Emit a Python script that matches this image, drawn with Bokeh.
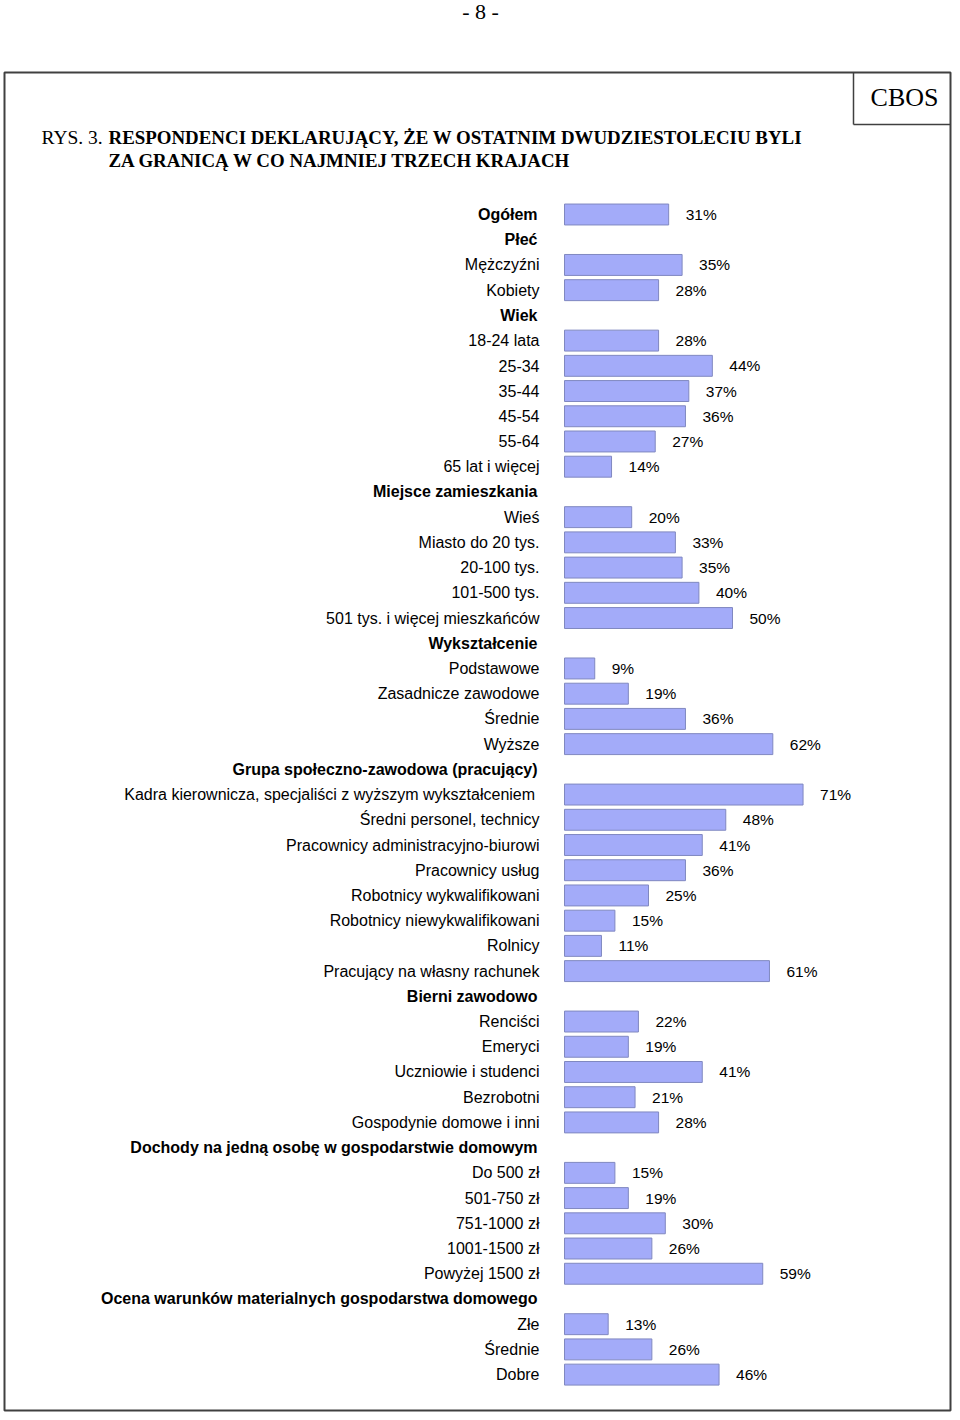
from bokeh.plotting import figure
from bokeh.models import Range1d, ColumnDataSource
from bokeh.core.properties import value
from bokeh.embed import file_html
from bokeh.resources import INLINE

# ---------------- data ----------------
categories = [
    "Ogółem", "Płeć", "Mężczyźni", "Kobiety", "Wiek", "18-24 lata", "25-34", "35-44",
    "45-54", "55-64", "65 lat i więcej", "Miejsce zamieszkania", "Wieś",
    "Miasto do 20 tys.", "20-100 tys.", "101-500 tys.", "501 tys. i więcej mieszkańców",
    "Wykształcenie", "Podstawowe", "Zasadnicze zawodowe", "Średnie", "Wyższe",
    "Grupa społeczno-zawodowa (pracujący)",
    "Kadra kierownicza, specjaliści  z wyższym wykształceniem",
    "Średni personel, technicy", "Pracownicy administracyjno-biurowi",
    "Pracownicy usług", "Robotnicy wykwalifikowani", "Robotnicy niewykwalifikowani",
    "Rolnicy", "Pracujący na własny rachunek", "Bierni zawodowo", "Renciści",
    "Emeryci", "Uczniowie i studenci", "Bezrobotni", "Gospodynie domowe i inni",
    "Dochody na jedną osobę w gospodarstwie domowym", "Do 500 zł", "501-750 zł",
    "751-1000 zł", "1001-1500 zł", "Powyżej 1500 zł",
    "Ocena warunków materialnych gospodarstwa domowego", "Złe", "Średnie", "Dobre",
]
values = [
    31, None, 35, 28, None, 28, 44, 37,
    36, 27, 14, None, 20,
    33, 35, 40, 50,
    None, 9, 19, 36, 62,
    None,
    71,
    48, 41,
    36, 25, 15,
    11, 61, None, 22,
    19, 41, 21, 28,
    None, 15, 19,
    30, 26, 59,
    None, 13, 26, 46,
]
bold_rows = [
    "Ogółem", "Płeć", "Wiek", "Miejsce zamieszkania", "Wykształcenie",
    "Grupa społeczno-zawodowa (pracujący)", "Bierni zawodowo",
    "Dochody na jedną osobę w gospodarstwie domowym",
    "Ocena warunków materialnych gospodarstwa domowego",
]
title_prefix = "RYS. 3."
title_line1 = "RESPONDENCI DEKLARUJĄCY, ŻE W OSTATNIM DWUDZIESTOLECIU BYLI"
title_line2 = "ZA GRANICĄ W CO NAJMNIEJ TRZECH KRAJACH"
page_label = "- 8 -"
brand = "CBOS"

# ---------------- layout constants (picture pixels) ----------------
W, H = 952, 1412
OFF = 0
X0, SX = 564.0, 3.36     # picture x of 0 %, pixels per %
Y0, SY = 214.0, 25.22    # picture y of first row, pixels per row

def X(px):
    return (px - X0) / SX

def Y(py):
    return (py - Y0) / SY

p = figure(width=W, height=H, output_backend="svg", toolbar_location=None,
           x_range=Range1d(X(OFF), X(OFF + W)),
           y_range=Range1d(Y(OFF + H), Y(OFF)),
           min_border=0, outline_line_color=None)
p.xaxis.visible = False
p.yaxis.visible = False
p.grid.visible = False
p.background_fill_color = "white"
p.border_fill_color = "white"

rows = list(range(len(categories)))
bar_rows = [i for i, v in enumerate(values) if v is not None]
bar_vals = [values[i] for i in bar_rows]
bars = ColumnDataSource(dict(y=bar_rows, v=bar_vals,
                             lab=[f"{v}%" for v in bar_vals]))

p.hbar(y="y", left=0, right="v", height=0.83, source=bars,
       fill_color="#a3abf9", line_color="#8088c0", line_width=1)
p.text(x="v", y="y", text="lab", source=bars, x_offset=17,
       text_align="left", text_baseline="middle",
       text_font=value("Liberation Sans"), text_font_size="15.5px", text_color="#000000")

norm_rows = [i for i in rows if categories[i] not in bold_rows]
bold_idx = [i for i in rows if categories[i] in bold_rows]
p.text(x=[0] * len(norm_rows), y=norm_rows, text=[categories[i] for i in norm_rows],
       x_offset=-25, text_align="right", text_baseline="middle",
       text_font=value("Liberation Sans"), text_font_size="16px", text_color="#000000")
p.text(x=[0] * len(bold_idx), y=bold_idx, text=[categories[i] for i in bold_idx],
       x_offset=-27, text_align="right", text_baseline="middle",
       text_font=value("Liberation Sans"), text_font_size="16px", text_font_style="bold",
       text_color="#000000")

# ---------------- frame and header decorations ----------------
fl, fr, ft, fb = 4, 950, 72, 1410
p.quad(left=[X(fl)], right=[X(fr)], top=[Y(ft)], bottom=[Y(fb)],
       fill_color=None, line_color="#404040", line_width=2)
p.segment(x0=[X(853), X(853)], y0=[Y(ft), Y(124)], x1=[X(853), X(fr)], y1=[Y(124), Y(124)],
          line_color="#404040", line_width=1.5)
p.text(x=[X(904)], y=[Y(97)], text=[brand], text_align="center", text_baseline="middle",
       text_font=value("Liberation Serif"), text_font_size="26px", text_color="#000000")
p.text(x=[X(480)], y=[Y(11)], text=[page_label], text_align="center", text_baseline="middle",
       text_font=value("Liberation Serif"), text_font_size="22px", text_color="#000000")
p.text(x=[X(41)], y=[Y(137)], text=[title_prefix], text_align="left", text_baseline="middle",
       text_font=value("Liberation Serif"), text_font_size="19.5px", text_color="#000000")
p.text(x=[X(108), X(108)], y=[Y(137), Y(160)], text=[title_line1, title_line2],
       text_align="left", text_baseline="middle",
       text_font=value("Liberation Serif"), text_font_size="18.9px", text_font_style="bold",
       text_color="#000000")

open("out.html", "w").write(file_html(p, INLINE))
